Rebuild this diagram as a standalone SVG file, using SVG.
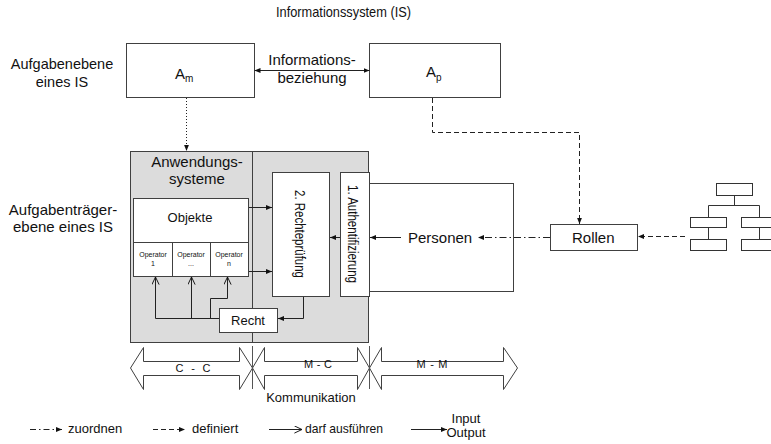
<svg xmlns="http://www.w3.org/2000/svg" width="771" height="444" viewBox="0 0 771 444">
<style>
text{font-family:"Liberation Sans",Arial,sans-serif;fill:#111}
.box{fill:#fff;stroke:#404040;stroke-width:1}
.ln{fill:none;stroke:#222;stroke-width:1}
.t15{font-size:15px}
.t13{font-size:13px}
.mid{text-anchor:middle}
.op{font-size:7px;text-anchor:middle}
</style>
<defs>
<marker id="fa" viewBox="0 0 10 10" refX="10" refY="5" markerWidth="6" markerHeight="6" orient="auto-start-reverse" markerUnits="userSpaceOnUse"><path d="M0,1 L10,5 L0,9 z" fill="#111"/></marker>
<marker id="oa" viewBox="0 0 10 10" refX="9.5" refY="5" markerWidth="8" markerHeight="8" orient="auto" markerUnits="userSpaceOnUse"><path d="M0,0.5 L9.5,5 L0,9.5" fill="none" stroke="#111" stroke-width="1.2"/></marker>
</defs>

<text class="t15" x="276" y="17" textLength="135" lengthAdjust="spacingAndGlyphs">Informationssystem (IS)</text>
<g id="label-aufgabenebene">
<text class="mid" font-size="14.5" x="62" y="69">Aufgabenebene</text>
<text class="mid" font-size="14.5" x="62" y="87">eines IS</text>
</g>
<g id="label-aufgabentraeger">
<text class="t15 mid" x="63" y="215">Aufgabenträger-</text>
<text class="t15 mid" x="63" y="232">ebene eines IS</text>
</g>

<g id="Am">
<rect class="box" x="126.5" y="43.5" width="128" height="54"/>
<text class="t15" x="175" y="79">A<tspan font-size="10" dy="3">m</tspan></text>
</g>
<g id="Ap">
<rect class="box" x="369.5" y="43.5" width="131" height="54"/>
<text class="t15" x="426" y="77">A<tspan font-size="10" dy="4">p</tspan></text>
</g>
<g id="label-infobeziehung">
<text class="t15 mid" x="312" y="65">Informations-</text>
<text class="t15 mid" x="312" y="83">beziehung</text>
</g>

<g id="anwendungssysteme">
<rect x="130.5" y="151.5" width="238" height="191" fill="#dcdcdc" stroke="#404040"/>
<line x1="252.5" y1="151.5" x2="252.5" y2="342.5" stroke="#404040"/>
<text class="t15 mid" x="197" y="167">Anwendungs-</text>
<text class="t15 mid" x="197" y="184">systeme</text>
</g>
<g id="objekte">
<rect class="box" x="133.5" y="198.5" width="115" height="78"/>
<line x1="133.5" y1="242.5" x2="248.5" y2="242.5" stroke="#404040"/>
<line x1="172.5" y1="242.5" x2="172.5" y2="276.5" stroke="#404040"/>
<line x1="210.5" y1="242.5" x2="210.5" y2="276.5" stroke="#404040"/>
<text class="t13 mid" x="190" y="222">Objekte</text>
<text class="op" x="153" y="257">Operator</text><text class="op" x="153" y="266">1</text>
<text class="op" x="191" y="257">Operator</text><text class="op" x="191" y="266">...</text>
<text class="op" x="229" y="257">Operator</text><text class="op" x="229" y="266">n</text>
</g>
<g id="rechtepruefung">
<rect class="box" x="272.5" y="172.5" width="57" height="124"/>
<text class="mid" font-size="14" transform="translate(300,234) rotate(90)" x="0" y="5" textLength="88" lengthAdjust="spacingAndGlyphs">2. Rechteprüfung</text>
</g>
<g id="personen">
<rect class="box" x="369.5" y="183.5" width="144" height="108"/>
<text class="t15" x="408" y="243">Personen</text>
</g>
<g id="authentifizierung">
<rect class="box" x="340.5" y="172.5" width="29" height="124"/>
<text class="mid" font-size="14" transform="translate(353,234) rotate(90)" x="0" y="5" textLength="98" lengthAdjust="spacingAndGlyphs">1. Authentifizierung</text>
</g>
<g id="recht">
<rect class="box" x="219.5" y="308.5" width="58" height="24"/>
<text class="t13 mid" x="248" y="325">Recht</text>
</g>
<g id="rollen">
<rect class="box" x="550.5" y="224.5" width="87" height="26"/>
<text class="t15" x="572" y="243">Rollen</text>
</g>
<g id="hierarchie" fill="#fff" stroke="#333">
<rect x="716.5" y="183.5" width="36" height="12"/>
<path d="M734.5,195.5 V205.5 M708.5,217.5 V205.5 H759.5 V217.5 M708.5,227.5 V239.5 M759.5,227.5 V239.5" fill="none"/>
<rect x="690.5" y="217.5" width="36" height="10"/>
<rect x="690.5" y="239.5" width="36" height="11"/>
<rect x="741.5" y="217.5" width="36" height="10"/>
<rect x="741.5" y="239.5" width="36" height="11"/>
</g>

<g id="connectors">
<line class="ln" x1="254.5" y1="70.5" x2="369.5" y2="70.5" marker-start="url(#fa)" marker-end="url(#fa)"/>
<line class="ln" x1="186.5" y1="98" x2="186.5" y2="151" stroke-dasharray="1 2" marker-end="url(#fa)"/>
<path class="ln" d="M432.5,98 V132.5 H579.5 V224" stroke-dasharray="5 3" marker-end="url(#fa)"/>
<path class="ln" d="M685,236.5 H638" stroke-dasharray="5 3" marker-end="url(#fa)"/>
<path class="ln" d="M550,237.5 H478" stroke-dasharray="7 3 1.5 3" marker-end="url(#fa)"/>
<path class="ln" d="M401,237.5 H370" marker-end="url(#fa)"/>
<path class="ln" d="M340,237.5 H330" marker-end="url(#fa)"/>
<path class="ln" d="M249,207.5 H272" marker-end="url(#fa)"/>
<path class="ln" d="M249,271.5 H272" marker-end="url(#fa)"/>
<path class="ln" d="M303.5,297 V318.5 H278" marker-end="url(#fa)"/>
<path class="ln" d="M219,318.5 H155.5 V277" marker-end="url(#oa)"/>
<path class="ln" d="M191.5,318.5 V277" marker-end="url(#oa)"/>
<path class="ln" d="M210.5,318.5 V298.5 H227.5 V277" marker-end="url(#oa)"/>
</g>

<g id="kommunikation" fill="#fff" stroke="#404040">
<polygon points="130.5,368 143.5,347.5 143.5,361.5 239.5,361.5 239.5,347.5 252.5,368 239.5,389.5 239.5,375.5 143.5,375.5 143.5,389.5"/>
<polygon points="252.5,368 264.5,347.5 264.5,361.5 357.5,361.5 357.5,347.5 369.5,368 357.5,389.5 357.5,375.5 264.5,375.5 264.5,389.5"/>
<polygon points="369.5,368 381.5,347.5 381.5,361.5 503.5,361.5 503.5,347.5 517.5,368 503.5,389.5 503.5,375.5 381.5,375.5 381.5,389.5"/>
<line x1="252.5" y1="346" x2="252.5" y2="389" stroke="#555"/>
<line x1="369.5" y1="346" x2="369.5" y2="389" stroke="#555"/>
</g>
<text font-size="11" class="mid" x="193" y="372" textLength="35" lengthAdjust="spacing">C - C</text>
<text font-size="11" class="mid" x="318" y="368" textLength="28" lengthAdjust="spacing">M - C</text>
<text font-size="11" class="mid" x="432" y="368" textLength="31" lengthAdjust="spacing">M - M</text>
<text class="t13 mid" x="311" y="402">Kommunikation</text>

<g id="legende">
<line class="ln" x1="30" y1="429.5" x2="62" y2="429.5" stroke-dasharray="6 3 1.5 3" marker-end="url(#fa)"/>
<text class="t13" x="68" y="433">zuordnen</text>
<line class="ln" x1="153" y1="429.5" x2="185" y2="429.5" stroke-dasharray="5 3" marker-end="url(#fa)"/>
<text class="t13" x="192" y="433">definiert</text>
<line class="ln" x1="269" y1="429.5" x2="302" y2="429.5" marker-end="url(#oa)"/>
<text class="t13" x="305" y="433" textLength="78" lengthAdjust="spacingAndGlyphs">darf ausführen</text>
<line class="ln" x1="411" y1="429.5" x2="447" y2="429.5" marker-end="url(#fa)"/>
<text class="t13 mid" x="466" y="423">Input</text>
<text class="t13 mid" x="466" y="437">Output</text>
</g>
</svg>
